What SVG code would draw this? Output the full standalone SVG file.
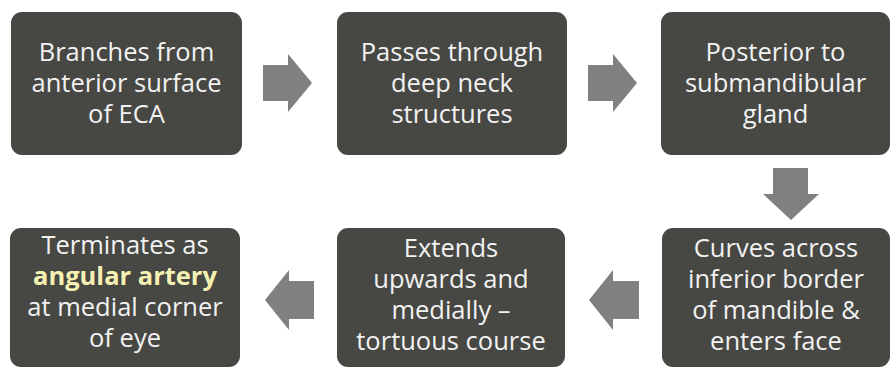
<svg xmlns="http://www.w3.org/2000/svg" width="896" height="369" viewBox="0 0 896 369">
<style>
.box{fill:#474743}
.t{font-family:"Open Sans","Noto Sans","Liberation Sans",sans-serif;font-size:25.5px;fill:#f2f2f2;text-anchor:middle}
.hl{fill:#f5f1b3;font-weight:bold}
.arr{fill:#808080}
</style>
<rect width="896" height="369" fill="#ffffff"/>
<g id="node1"><rect class="box" x="11" y="12" width="231" height="143" rx="11"/>
<text class="t" x="126.5"><tspan x="126.5" y="61">Branches from</tspan><tspan x="126.5" y="92">anterior surface</tspan><tspan x="126.5" y="123">of ECA</tspan></text></g>
<g id="node2"><rect class="box" x="337" y="12" width="230" height="143" rx="11"/>
<text class="t"><tspan x="452" y="61">Passes through</tspan><tspan x="452" y="92">deep neck</tspan><tspan x="452" y="123">structures</tspan></text></g>
<g id="node3"><rect class="box" x="661" y="12" width="229" height="143" rx="11"/>
<text class="t"><tspan x="775.5" y="61">Posterior to</tspan><tspan x="775.5" y="92">submandibular</tspan><tspan x="775.5" y="123">gland</tspan></text></g>
<g id="node4"><rect class="box" x="10" y="228" width="230" height="139" rx="11"/>
<text class="t"><tspan x="125" y="254">Terminates as</tspan><tspan x="125" y="285" class="hl">angular artery</tspan><tspan x="125" y="316">at medial corner</tspan><tspan x="125" y="347">of eye</tspan></text></g>
<g id="node5"><rect class="box" x="337" y="228" width="228" height="139" rx="11"/>
<text class="t"><tspan x="451" y="257">Extends</tspan><tspan x="451" y="288">upwards and</tspan><tspan x="451" y="319">medially –</tspan><tspan x="451" y="350">tortuous course</tspan></text></g>
<g id="node6"><rect class="box" x="662" y="228" width="228" height="139" rx="11"/>
<text class="t"><tspan x="776" y="257">Curves across</tspan><tspan x="776" y="288">inferior border</tspan><tspan x="776" y="319">of mandible &amp;</tspan><tspan x="776" y="350">enters face</tspan></text></g>
<g id="connectors">
<polygon class="arr" points="263,65 288,65 288,54 312,83 288,112 288,101 263,101"/>
<polygon class="arr" points="588,65 613,65 613,54 637,83 613,112 613,101 588,101"/>
<polygon class="arr" points="773,168 808,168 808,194 819,194 791,220 763,194 773,194"/>
<polygon class="arr" points="639,281 613,281 613,270 589,300 613,330 613,319 639,319"/>
<polygon class="arr" points="314,281 289,281 289,270 265,300 289,330 289,319 314,319"/>
</g>
</svg>
